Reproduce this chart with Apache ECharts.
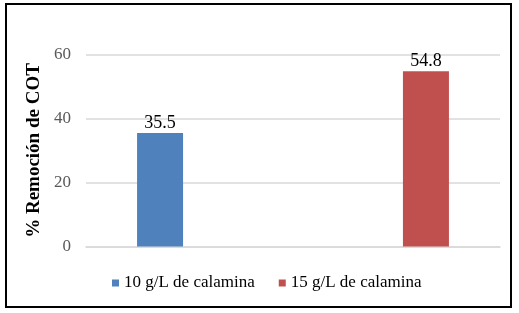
<!DOCTYPE html>
<html><head><meta charset="utf-8">
<script src="https://cdn.jsdelivr.net/npm/echarts@6/dist/echarts.min.js"></script>
<style>html,body{margin:0;padding:0;background:#fff}#c{width:519px;height:313px}</style>
</head><body><div id="c"></div>
<script>
const categories = [''];
const seriesNames = ['10 g/L de calamina', '15 g/L de calamina'];
const values10 = [35.5];
const values15 = [54.8];
const yTicks = [0, 20, 40, 60];

const font = 'Liberation Serif';
const chart = echarts.init(document.getElementById('c'), null, {renderer: 'canvas'});
chart.setOption({
  animation: false,
  backgroundColor: '#fff',
  textStyle: {fontFamily: font},
  grid: {left: 86, right: 19, top: 54.5, bottom: 66.5},
  legend: {
    data: seriesNames,
    left: 107, top: 269.5,
    itemWidth: 7, itemHeight: 7, itemGap: 24,
    icon: 'rect',
    textStyle: {fontFamily: font, fontSize: 17, color: '#000'}
  },
  xAxis: {
    type: 'category', data: categories,
    axisLine: {show: true, lineStyle: {color: '#D9D9D9', width: 1.5}},
    axisTick: {show: false}, axisLabel: {show: false}
  },
  yAxis: {
    type: 'value', min: yTicks[0], max: yTicks[yTicks.length-1], interval: 20,
    name: '% Remoción de COT', nameLocation: 'middle', nameGap: 35,
    nameTextStyle: {fontFamily: font, fontSize: 19, fontWeight: 'bold', color: '#000'},
    axisLine: {show: false}, axisTick: {show: false},
    axisLabel: {fontFamily: font, fontSize: 17, color: '#595959', margin: 15},
    splitLine: {lineStyle: {color: '#D9D9D9', width: 1.5}}
  },
  series: [
    {name: seriesNames[0], type: 'bar', data: values10, barWidth: 46, barGap: '478%',
     itemStyle: {color: '#4F81BD'},
     label: {show: true, position: 'top', distance: 1, fontFamily: font, fontSize: 18, color: '#000'}},
    {name: seriesNames[1], type: 'bar', data: values15, barWidth: 46,
     itemStyle: {color: '#C0504D'},
     label: {show: true, position: 'top', distance: 1, fontFamily: font, fontSize: 18, color: '#000'}}
  ],
  graphic: [{type: 'rect', shape: {x: 6, y: 4, width: 505, height: 303},
    style: {fill: 'none', stroke: '#000', lineWidth: 2}, silent: true}]
});
</script></body></html>
